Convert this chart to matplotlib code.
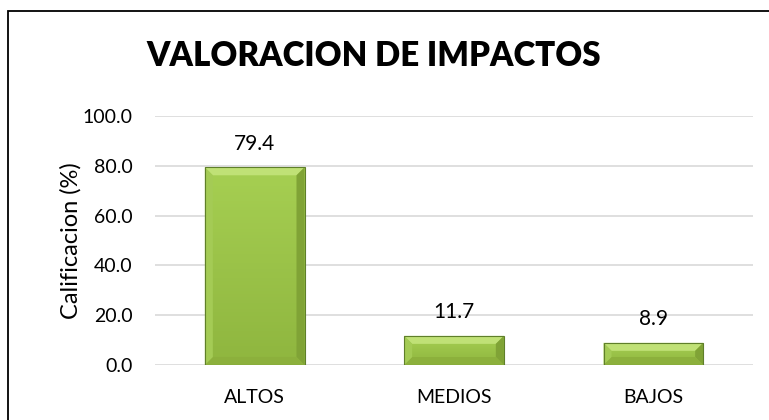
"""Bar chart: valoracion de impactos."""

import matplotlib

matplotlib.use("Agg")
import matplotlib.pyplot as plt
import numpy as np
from matplotlib.colors import LinearSegmentedColormap
from matplotlib.patches import Polygon, Rectangle

categories = ["ALTOS", "MEDIOS", "BAJOS"]
values = [79.4, 11.7, 8.9]
y_ticks = [0, 20, 40, 60, 80, 100]

plt.rcParams["font.family"] = ["Lato", "DejaVu Sans"]

fig = plt.figure(figsize=(7.69, 4.20), dpi=100)
ax = fig.add_axes([155 / 769, 1 - 365 / 420, 598 / 769, 249 / 420])

# --- Bars with gradient fill ---
x = np.arange(len(categories))
width = 0.5
bars = ax.bar(x, values, width=width, color="none", edgecolor="#5f7f2a",
              linewidth=0.8, zorder=3)

cmap = LinearSegmentedColormap.from_list("grn", ["#8fb63f", "#a6cf52"])
grad = np.linspace(0, 1, 64).reshape(-1, 1)
bx = 8 / 199.3          # bevel width in data units
by_full = 8 / 2.49      # bevel height in data units
for bar in bars:
    x0, y0 = bar.get_x(), bar.get_y()
    w, h = bar.get_width(), bar.get_height()
    im = ax.imshow(grad, cmap=cmap, aspect="auto", origin="lower",
                   extent=[x0, x0 + w, y0, y0 + h], zorder=2)
    im.set_clip_path(bar)
    by = min(by_full, h / 2.6)
    top = Polygon([(x0, y0 + h), (x0 + w, y0 + h), (x0 + w - bx, y0 + h - by),
                   (x0 + bx, y0 + h - by)], closed=True, fc="#c0e176",
                  ec="none", zorder=2.5)
    right = Polygon([(x0 + w, y0 + h), (x0 + w, y0), (x0 + w - bx, y0 + by),
                     (x0 + w - bx, y0 + h - by)], closed=True, fc="#80a336",
                    ec="none", zorder=2.5)
    bottom = Polygon([(x0, y0), (x0 + w, y0), (x0 + w - bx, y0 + by),
                      (x0 + bx, y0 + by)], closed=True, fc="#8cb03c",
                     ec="none", zorder=2.5)
    left = Polygon([(x0, y0), (x0, y0 + h), (x0 + bx, y0 + h - by),
                    (x0 + bx, y0 + by)], closed=True, fc="#a4cb55",
                   ec="none", zorder=2.5)
    for p in (top, right, bottom, left):
        ax.add_patch(p)

# --- Value labels ---
for xi, v in zip(x, values):
    ax.annotate(f"{v:.1f}", (xi, v), xytext=(0, 17), textcoords="offset points",
                ha="center", va="center", fontsize=15, color="#000000")

# --- Axes styling ---
ax.set_xlim(-0.5, len(categories) - 0.5)
ax.set_ylim(0, 100)
ax.set_yticks(y_ticks)
ax.set_yticklabels([f"{t:.1f}" for t in y_ticks], fontsize=14)
ax.set_xticks(x)
ax.set_xticklabels(categories, fontsize=14)
ax.yaxis.grid(True, color="#d9d9d9", linewidth=1.2, zorder=0)
ax.set_axisbelow(True)
for s in ax.spines.values():
    s.set_visible(False)
ax.tick_params(axis="both", length=0)
ax.tick_params(axis="y", pad=16)
ax.tick_params(axis="x", pad=17)
ax.set_ylabel("Calificacion (%)", fontsize=17, labelpad=1)

# --- Title ---
fig.text(374 / 769, 1 - 56 / 420, "VALORACION DE IMPACTOS", ha="center",
         va="center", fontsize=23.8, fontweight="heavy")

# --- Chart border ---
fig.patches.append(Rectangle((7.5 / 769, -0.05), 1.0, 1 - 10.5 / 420 + 0.05,
                             transform=fig.transFigure, fill=False,
                             ec="black", lw=1.3))

fig.savefig("out.png", dpi=100)
